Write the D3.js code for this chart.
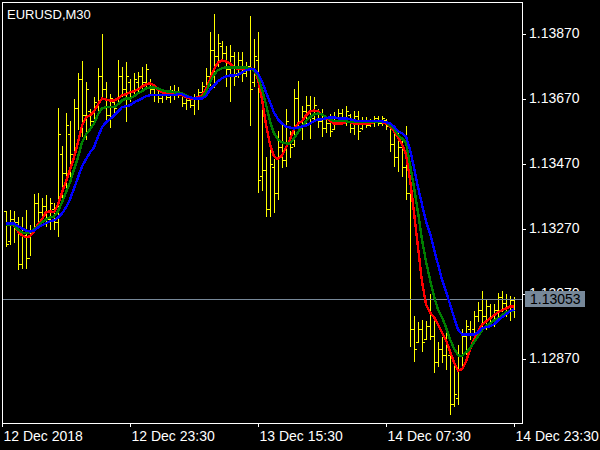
<!DOCTYPE html>
<html><head><meta charset="utf-8">
<script src="https://cdn.jsdelivr.net/npm/d3@7"></script>
<style>html,body{margin:0;padding:0;background:#000;overflow:hidden}svg{display:block}</style>
</head><body>
<script>
const symbolTitle = "EURUSD,M30";

const high = [1.13323,1.13326,1.13323,1.13304,1.13304,1.13326,1.13280,1.13375,1.13378,1.13363,
1.13372,1.13363,1.13350,1.13640,1.13523,1.13624,1.13600,1.13667,1.13750,1.13784,
1.13720,1.13637,1.13674,1.13763,1.13867,1.13720,1.13683,1.13667,1.13787,1.13766,
1.13781,1.13729,1.13750,1.13753,1.13766,1.13775,1.13729,1.13713,1.13698,1.13689,
1.13689,1.13707,1.13713,1.13704,1.13683,1.13677,1.13674,1.13683,1.13698,1.13720,
1.13763,1.13874,1.13929,1.13870,1.13846,1.13830,1.13836,1.13812,1.13812,1.13812,
1.13781,1.13923,1.13852,1.13874,1.13667,1.13489,1.13513,1.13483,1.13569,1.13590,
1.13637,1.13569,1.13698,1.13723,1.13646,1.13677,1.13677,1.13674,1.13637,1.13637,
1.13606,1.13621,1.13627,1.13637,1.13637,1.13646,1.13621,1.13630,1.13630,1.13612,
1.13612,1.13606,1.13615,1.13615,1.13615,1.13606,1.13584,1.13569,1.13566,1.13544,
1.13584,1.13390,1.13000,1.12981,1.12990,1.12984,1.13067,1.13000,1.12920,1.12935,
1.12950,1.12889,1.12846,1.12913,1.12960,1.12990,1.12984,1.13015,1.13043,1.13077,
1.13052,1.13037,1.13037,1.13073,1.13077,1.13067,1.13061,1.13058];

const low = [1.13215,1.13221,1.13227,1.13144,1.13147,1.13150,1.13190,1.13267,1.13289,1.13292,
1.13277,1.13267,1.13267,1.13246,1.13363,1.13381,1.13412,1.13492,1.13575,1.13554,
1.13544,1.13575,1.13597,1.13627,1.13677,1.13597,1.13581,1.13615,1.13658,1.13677,
1.13600,1.13661,1.13677,1.13689,1.13698,1.13704,1.13683,1.13661,1.13658,1.13658,
1.13667,1.13658,1.13667,1.13674,1.13646,1.13637,1.13643,1.13621,1.13637,1.13667,
1.13677,1.13713,1.13704,1.13769,1.13790,1.13707,1.13661,1.13713,1.13735,1.13723,
1.13738,1.13590,1.13707,1.13381,1.13390,1.13307,1.13307,1.13320,1.13360,1.13458,
1.13461,1.13489,1.13523,1.13566,1.13544,1.13590,1.13550,1.13606,1.13581,1.13554,
1.13566,1.13554,1.13575,1.13606,1.13597,1.13590,1.13566,1.13560,1.13544,1.13575,
1.13581,1.13584,1.13584,1.13590,1.13590,1.13575,1.13507,1.13461,1.13446,1.13430,
1.13360,1.12907,1.12861,1.12920,1.12892,1.12929,1.12929,1.12827,1.12846,1.12858,
1.12837,1.12698,1.12723,1.12729,1.12846,1.12883,1.12929,1.12953,1.12984,1.12969,
1.12960,1.12984,1.12969,1.13000,1.13015,1.13000,1.12990,1.12997];

const open = [1.13323,1.13230,1.13300,1.13290,1.13160,1.13250,1.13180,1.13270,1.13350,1.13320,
1.13340,1.13300,1.13330,1.13290,1.13500,1.13440,1.13560,1.13500,1.13640,1.13730,
1.13620,1.13630,1.13600,1.13650,1.13740,1.13700,1.13620,1.13660,1.13650,1.13740,
1.13700,1.13720,1.13690,1.13720,1.13740,1.13720,1.13720,1.13700,1.13680,1.13670,
1.13680,1.13675,1.13690,1.13680,1.13680,1.13655,1.13665,1.13650,1.13670,1.13690,
1.13700,1.13740,1.13820,1.13800,1.13830,1.13810,1.13760,1.13800,1.13750,1.13790,
1.13750,1.13770,1.13720,1.13790,1.13430,1.13450,1.13330,1.13460,1.13380,1.13520,
1.13480,1.13540,1.13530,1.13670,1.13600,1.13630,1.13650,1.13610,1.13630,1.13600,
1.13580,1.13595,1.13575,1.13610,1.13625,1.13605,1.13620,1.13580,1.13615,1.13580,
1.13600,1.13590,1.13600,1.13610,1.13595,1.13605,1.13584,1.13530,1.13490,1.13520,
1.13460,1.13380,1.12960,1.12920,1.12960,1.12930,1.12970,1.12940,1.12860,1.12900,
1.12880,1.12880,1.12730,1.12750,1.12880,1.12940,1.12960,1.12960,1.13000,1.13020,
1.13000,1.13030,1.13000,1.13020,1.13060,1.13040,1.13030,1.13050];

const close = [1.13221,1.13300,1.13290,1.13160,1.13250,1.13180,1.13260,1.13350,1.13320,1.13340,
1.13300,1.13350,1.13290,1.13560,1.13440,1.13590,1.13500,1.13640,1.13730,1.13620,
1.13700,1.13600,1.13660,1.13740,1.13700,1.13620,1.13670,1.13640,1.13740,1.13700,
1.13740,1.13690,1.13730,1.13740,1.13720,1.13760,1.13700,1.13680,1.13670,1.13680,
1.13675,1.13695,1.13680,1.13690,1.13655,1.13665,1.13650,1.13670,1.13690,1.13710,
1.13740,1.13820,1.13800,1.13840,1.13810,1.13760,1.13800,1.13740,1.13790,1.13750,
1.13770,1.13700,1.13800,1.13420,1.13450,1.13330,1.13470,1.13380,1.13520,1.13480,
1.13600,1.13520,1.13670,1.13600,1.13630,1.13650,1.13600,1.13650,1.13600,1.13580,
1.13595,1.13570,1.13610,1.13625,1.13605,1.13630,1.13580,1.13615,1.13570,1.13600,
1.13590,1.13600,1.13610,1.13595,1.13610,1.13585,1.13530,1.13490,1.13520,1.13460,
1.13380,1.12960,1.12900,1.12960,1.12920,1.12970,1.12940,1.12860,1.12900,1.12880,
1.12910,1.12730,1.12760,1.12880,1.12940,1.12970,1.12950,1.13000,1.13020,1.13000,
1.13030,1.13000,1.13020,1.13060,1.13040,1.13030,1.13050,1.13053];

const redMA = [1.13280,1.13280,1.13280,1.13261,1.13249,1.13243,1.13246,1.13261,1.13283,1.13298,
1.13320,1.13323,1.13320,1.13344,1.13381,1.13415,1.13452,1.13489,1.13535,1.13587,
1.13612,1.13618,1.13630,1.13652,1.13670,1.13667,1.13664,1.13664,1.13670,1.13680,
1.13683,1.13689,1.13692,1.13698,1.13707,1.13713,1.13717,1.13710,1.13698,1.13689,
1.13686,1.13686,1.13686,1.13683,1.13680,1.13674,1.13670,1.13670,1.13674,1.13680,
1.13698,1.13729,1.13760,1.13781,1.13787,1.13784,1.13778,1.13766,1.13760,1.13760,
1.13760,1.13763,1.13760,1.13729,1.13667,1.13590,1.13529,1.13492,1.13483,1.13495,
1.13520,1.13544,1.13575,1.13593,1.13600,1.13618,1.13630,1.13633,1.13630,1.13621,
1.13612,1.13600,1.13593,1.13593,1.13593,1.13597,1.13597,1.13593,1.13593,1.13593,
1.13593,1.13593,1.13597,1.13597,1.13597,1.13593,1.13584,1.13569,1.13550,1.13529,
1.13498,1.13421,1.13320,1.13212,1.13107,1.13037,1.13012,1.12997,1.12975,1.12950,
1.12926,1.12892,1.12858,1.12833,1.12837,1.12861,1.12898,1.12929,1.12953,1.12975,
1.12984,1.12993,1.13003,1.13012,1.13018,1.13024,1.13030,1.13030];

const greenMA = [1.13280,1.13280,1.13280,1.13267,1.13258,1.13255,1.13258,1.13267,1.13277,1.13289,
1.13298,1.13304,1.13307,1.13323,1.13350,1.13381,1.13412,1.13452,1.13489,1.13535,
1.13560,1.13575,1.13593,1.13621,1.13640,1.13643,1.13643,1.13643,1.13652,1.13664,
1.13670,1.13670,1.13677,1.13686,1.13692,1.13701,1.13704,1.13704,1.13701,1.13695,
1.13692,1.13692,1.13689,1.13689,1.13686,1.13680,1.13674,1.13670,1.13670,1.13674,
1.13689,1.13720,1.13744,1.13757,1.13763,1.13766,1.13766,1.13766,1.13766,1.13766,
1.13766,1.13763,1.13757,1.13738,1.13698,1.13652,1.13600,1.13563,1.13544,1.13535,
1.13532,1.13532,1.13547,1.13566,1.13584,1.13600,1.13612,1.13621,1.13624,1.13621,
1.13612,1.13606,1.13600,1.13600,1.13600,1.13600,1.13597,1.13597,1.13597,1.13597,
1.13597,1.13597,1.13597,1.13597,1.13597,1.13597,1.13587,1.13578,1.13557,1.13547,
1.13535,1.13467,1.13397,1.13320,1.13236,1.13169,1.13113,1.13061,1.13021,1.12997,
1.12966,1.12929,1.12901,1.12880,1.12877,1.12889,1.12901,1.12920,1.12938,1.12957,
1.12969,1.12978,1.12987,1.12993,1.13003,1.13012,1.13015,1.13018];

const blueMA = [1.13286,1.13286,1.13286,1.13277,1.13270,1.13264,1.13261,1.13264,1.13273,1.13280,
1.13286,1.13292,1.13295,1.13304,1.13316,1.13335,1.13360,1.13393,1.13427,1.13461,
1.13483,1.13504,1.13520,1.13553,1.13581,1.13597,1.13606,1.13618,1.13630,1.13643,
1.13646,1.13649,1.13658,1.13664,1.13670,1.13677,1.13680,1.13680,1.13680,1.13680,
1.13680,1.13680,1.13680,1.13683,1.13683,1.13677,1.13674,1.13670,1.13670,1.13670,
1.13677,1.13698,1.13710,1.13723,1.13732,1.13738,1.13741,1.13741,1.13744,1.13750,
1.13757,1.13760,1.13760,1.13747,1.13723,1.13689,1.13658,1.13627,1.13606,1.13593,
1.13584,1.13581,1.13578,1.13581,1.13584,1.13587,1.13593,1.13600,1.13606,1.13606,
1.13609,1.13612,1.13612,1.13609,1.13609,1.13609,1.13606,1.13603,1.13600,1.13600,
1.13600,1.13600,1.13600,1.13600,1.13600,1.13597,1.13593,1.13584,1.13569,1.13563,
1.13553,1.13513,1.13458,1.13397,1.13344,1.13292,1.13255,1.13206,1.13160,1.13113,
1.13077,1.13037,1.12997,1.12960,1.12944,1.12944,1.12944,1.12944,1.12950,1.12963,
1.12966,1.12969,1.12975,1.12987,1.12997,1.13006,1.13015,1.13021];

const timeTickIndex = [-1, 31, 63, 95, 127];
const timeTickLabels = ["12 Dec 2018", "12 Dec 23:30", "13 Dec 15:30", "14 Dec 07:30", "14 Dec 23:30"];
const priceTicks = [1.13870, 1.13670, 1.13470, 1.13270, 1.13070, 1.12870];
const lastPrice = 1.13053;

const W = 600, H = 450;
const FONT = "'Liberation Sans', Arial, sans-serif";
const svg = d3.select("body").append("svg").attr("width", W).attr("height", H)
  .style("background", "#000").style("font-family", FONT);

const x = d3.scaleLinear().domain([-1, 129]).range([2, 522]);
const y = d3.scaleLinear().domain([1.12870, 1.13870]).range([358.5, 33.5]);

svg.append("defs").append("clipPath").attr("id", "plot")
  .append("rect").attr("x", 3).attr("y", 3).attr("width", 519).attr("height", 420);

const plot = svg.append("g").attr("clip-path", "url(#plot)");

// OHLC bars
const bars = plot.append("g").attr("fill", "#ffff00").attr("shape-rendering", "crispEdges");
high.forEach((h, i) => {
  const px = Math.round(x(i));
  const yh = Math.round(y(h)), yl = Math.round(y(low[i]));
  bars.append("rect").attr("x", px).attr("y", yh).attr("width", 1).attr("height", Math.max(1, yl - yh + 1));
  bars.append("rect").attr("x", px - 2).attr("y", Math.round(y(open[i]))).attr("width", 2).attr("height", 1);
  bars.append("rect").attr("x", px + 1).attr("y", Math.round(y(close[i]))).attr("width", 2).attr("height", 1);
});

// last price line
const ly = Math.round(y(lastPrice));
plot.append("line").attr("x1", 2).attr("x2", 522)
  .attr("y1", ly + 0.5).attr("y2", ly + 0.5)
  .attr("stroke", "#778899").attr("stroke-width", 1).attr("shape-rendering", "crispEdges");

// moving averages
const line = d3.line().x((d, i) => x(i)).y(d => y(d));
[[redMA, "#ff0000"], [greenMA, "#008000"], [blueMA, "#0000ff"]].forEach(([arr, col]) => {
  plot.append("path").datum(arr).attr("d", line).attr("fill", "none")
    .attr("stroke", col).attr("stroke-width", 2.4).attr("stroke-linejoin", "round")
    .attr("shape-rendering", "crispEdges");
});

// frame
svg.append("rect").attr("x", 2.5).attr("y", 2.5).attr("width", 520).attr("height", 421)
  .attr("fill", "none").attr("stroke", "#fff").attr("stroke-width", 1).attr("shape-rendering", "crispEdges");

// right price axis
const yAxis = d3.axisRight(y).tickValues(priceTicks).tickFormat(d3.format(".5f")).tickSize(4).tickPadding(3);
const ya = svg.append("g").attr("transform", "translate(522,0)").call(yAxis);
ya.select(".domain").remove();
ya.selectAll("line").attr("stroke", "#fff").attr("shape-rendering", "crispEdges");
ya.selectAll("text").attr("fill", "#fff").style("font-size", "14px").style("font-family", FONT);

// bottom time axis
const xAxis = d3.axisBottom(x).tickValues(timeTickIndex).tickFormat((d, i) => timeTickLabels[i]).tickSize(4).tickPadding(4);
const xa = svg.append("g").attr("transform", "translate(0,423)").call(xAxis);
xa.select(".domain").remove();
xa.selectAll("line").attr("stroke", "#fff").attr("shape-rendering", "crispEdges");
xa.selectAll("text").attr("fill", "#fff").attr("text-anchor", "start").attr("dx", 1)
  .style("font-size", "14px").style("font-family", FONT);

// last price label (covers the 1.13070 tick label like the original)
svg.append("rect").attr("x", 525).attr("y", ly - 8).attr("width", 60).attr("height", 16).attr("fill", "#778899");
svg.append("text").attr("x", 530).attr("y", ly + 5).attr("fill", "#000").style("font-size", "14px").text(d3.format(".5f")(lastPrice));

// title
svg.append("text").attr("x", 7).attr("y", 18.5).attr("fill", "#fff").style("font-size", "13px").text(symbolTitle);
</script>
</body></html>
